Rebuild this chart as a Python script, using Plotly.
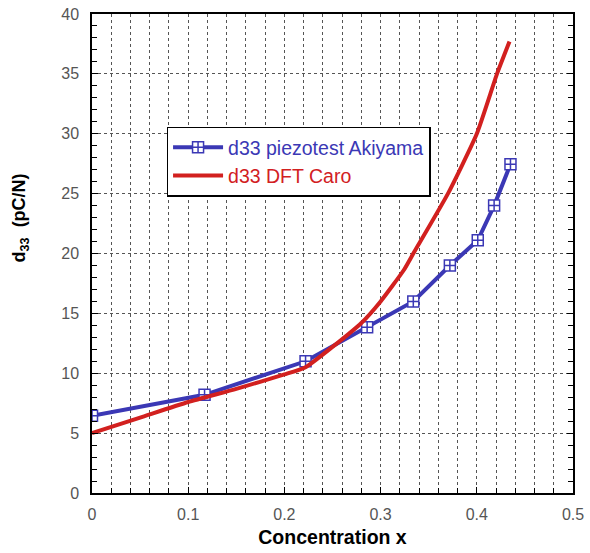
import plotly.graph_objects as go

blue_x = [0.0, 0.117, 0.222, 0.286, 0.334, 0.372, 0.401, 0.418, 0.435]
blue_y = [6.45, 8.2, 11.0, 13.85, 16.0, 19.0, 21.1, 24.0, 27.45]

red_x = [0.0, 0.05, 0.1, 0.15, 0.2, 0.222, 0.25, 0.28, 0.3, 0.324, 0.334, 0.37, 0.4, 0.421, 0.434]
red_y = [5.0, 6.3, 7.6, 8.7, 9.9, 10.5, 12.2, 14.2, 16.0, 18.6, 20.0, 25.0, 30.0, 35.0, 37.7]

BLUE = "#3b38b5"
RED = "#d2201f"

fig = go.Figure()
fig.add_trace(go.Scatter(
    x=blue_x, y=blue_y, mode="lines+markers",
    name="<span style='color:%s'>d33 piezotest Akiyama</span>" % BLUE,
    line=dict(color=BLUE, width=4),
    marker=dict(symbol="square-cross", size=11, color="white",
                line=dict(color=BLUE, width=1.5)),
))
fig.add_trace(go.Scatter(
    x=red_x, y=red_y, mode="lines",
    name="<span style='color:%s'>d33 DFT Caro</span>" % RED,
    line=dict(color=RED, width=4, shape="spline", smoothing=0.5),
))

fig.update_layout(
    width=590, height=553,
    margin=dict(l=92, r=17, t=14, b=60, autoexpand=False),
    paper_bgcolor="white", plot_bgcolor="white",
    font=dict(family="Liberation Sans, Arial, sans-serif", size=16, color="#555"),
    showlegend=True,
    legend=dict(x=0.155, y=0.765, xanchor="left", yanchor="top",
                bgcolor="white", bordercolor="black", borderwidth=1.5,
                font=dict(size=19.5), tracegroupgap=0, itemwidth=50,
                traceorder="normal"),
    annotations=[dict(
        text="<b>d<sub>33</sub>  (pC/N)</b>", textangle=-90,
        xref="paper", yref="paper", x=-0.148, y=0.575,
        xanchor="center", yanchor="middle", showarrow=False,
        font=dict(size=18, color="black"),
    )],
)
fig.update_xaxes(
    range=[0, 0.5], dtick=0.1, automargin=False,
    showline=True, linecolor="black", linewidth=1.5, mirror=True,
    ticks="inside", ticklen=6, tickcolor="black",
    ticklabelstandoff=6,
    showgrid=True, gridcolor="#555", griddash="dot", gridwidth=1,
    zeroline=False,
    minor=dict(dtick=0.02, showgrid=True, gridcolor="#555", griddash="dot",
               gridwidth=1, ticks="inside", ticklen=5, tickcolor="black"),
    title=dict(text="<b>Concentration x</b>", font=dict(size=19.5, color="black"), standoff=8),
)
fig.update_yaxes(
    range=[0, 40], dtick=5, automargin=False,
    showline=True, linecolor="black", linewidth=1.5, mirror="ticks",
    ticks="inside", ticklen=6, tickcolor="black",
    ticklabelstandoff=8,
    showgrid=True, gridcolor="#555", griddash="dot", gridwidth=1,
    zeroline=False,
    minor=dict(dtick=1, showgrid=False, ticks="inside", ticklen=5, tickcolor="black"),
)

fig.write_html("out.html")
